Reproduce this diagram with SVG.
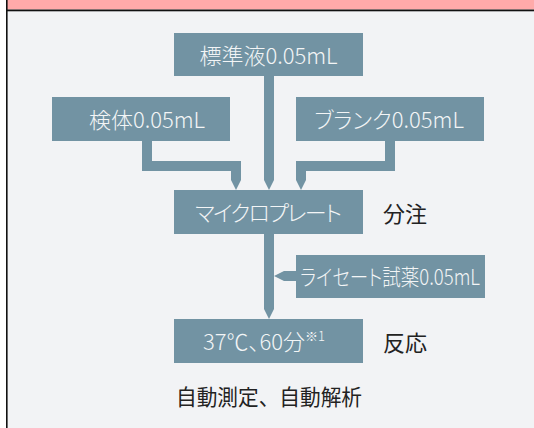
<svg xmlns="http://www.w3.org/2000/svg" width="534" height="428" viewBox="0 0 534 428">
<defs>
<style>
.box{fill:#7293a3;}
.bt{font-family:"Noto Sans CJK JP","Noto Sans",sans-serif;font-size:22px;font-weight:300;fill:#f3f5f6;text-anchor:middle;font-feature-settings:"palt";}
.lb{font-family:"Noto Sans CJK JP","Noto Sans",sans-serif;font-size:22px;font-weight:400;fill:#222;}
.conn{fill:none;stroke:#7293a3;stroke-width:10;stroke-linejoin:miter;stroke-linecap:butt;}
</style>
<marker id="tip" viewBox="0 0 10 10" markerUnits="userSpaceOnUse" markerWidth="10" markerHeight="10" refX="0" refY="5" orient="auto">
<path d="M0,0 L10,5 L0,10 z" fill="#7293a3"/>
</marker>
</defs>
<rect x="0" y="0" width="534" height="428" fill="#ffffff"/>
<rect x="7" y="10" width="527" height="418" fill="#f2f3f5"/>
<rect x="7" y="0" width="527" height="9.5" fill="#ffaaaa"/>
<rect x="6" y="9.5" width="528" height="1.8" fill="#111"/>
<rect x="6" y="0" width="1.6" height="428" fill="#111"/>

<g id="connectors">
<path class="conn" d="M269,76 V180" marker-end="url(#tip)"/>
<path class="conn" d="M147,141 V166 H236 V180" marker-end="url(#tip)"/>
<path class="conn" d="M390,141 V166 H301 V180" marker-end="url(#tip)"/>
<path class="conn" d="M269,234 V309" marker-end="url(#tip)"/>
<path class="conn" d="M296,276 H284" marker-end="url(#tip)"/>
</g>

<g id="standard">
<rect class="box" x="174" y="33" width="189" height="43"/>
<text class="bt" x="268.5" y="64">標準液0.05mL</text>
</g>
<g id="sample">
<rect class="box" x="52" y="97" width="178" height="44"/>
<text class="bt" x="147" y="128">検体0.05mL</text>
</g>
<g id="blank">
<rect class="box" x="296" y="97" width="188" height="44"/>
<text class="bt" x="389" y="128">ブランク0.05mL</text>
</g>
<g id="microplate">
<rect class="box" x="174" y="190" width="189" height="44"/>
<text class="bt" x="268.5" y="221" textLength="147" lengthAdjust="spacing">マイクロプレート</text>
<text class="lb" x="383" y="222">分注</text>
</g>
<g id="lysate">
<rect class="box" x="296" y="255" width="189" height="43"/>
<text class="bt" x="390" y="285" font-size="21" textLength="180" lengthAdjust="spacingAndGlyphs">ライセート試薬0.05mL</text>
</g>
<g id="reaction">
<rect class="box" x="174" y="319" width="189" height="44"/>
<text class="bt" x="203" y="350" style="text-anchor:start">37℃、60分<tspan font-size="13" dy="-9">※1</tspan></text>
<text class="lb" x="383" y="351">反応</text>
</g>
<g id="measure">
<text class="lb" x="176" y="405" textLength="186" lengthAdjust="spacingAndGlyphs">自動測定、自動解析</text>
</g>
</svg>
